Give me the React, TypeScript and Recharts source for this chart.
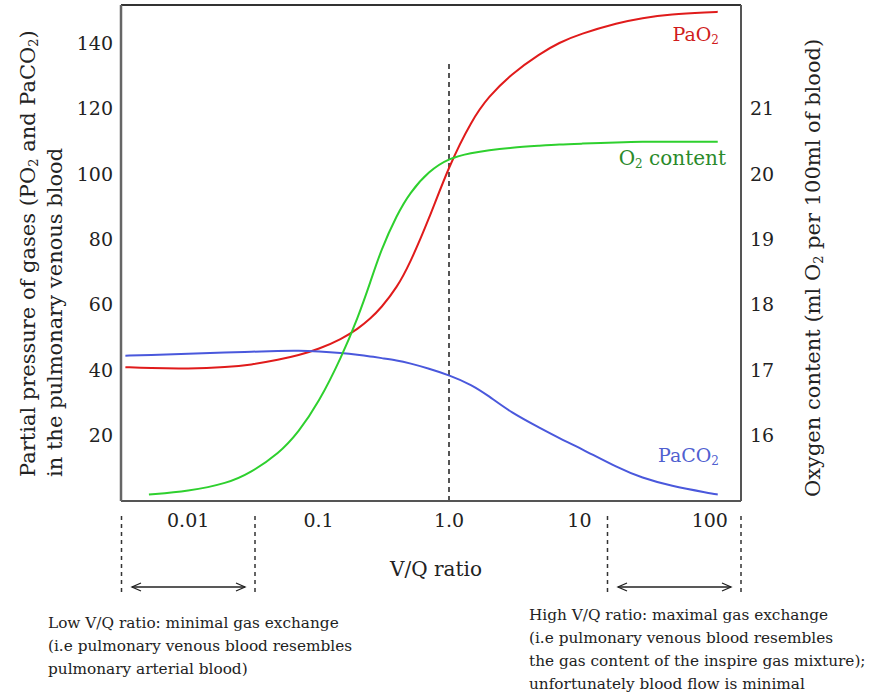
import React from 'react';
import { ComposedChart, Line, XAxis, YAxis, ReferenceLine } from 'recharts';

const FONT = '"DejaVu Serif", "Liberation Serif", serif';

// V/Q ratio sample points (log axis)
const vq = [0.0033, 0.005, 0.01, 0.02, 0.03, 0.05, 0.07, 0.1, 0.15, 0.2, 0.25, 0.3, 0.4, 0.5, 0.7, 1, 1.5, 2, 3, 5, 7, 10, 20, 30, 50, 100, 115];
// PaO2, mmHg (left axis)
const pao2 = [40.9, 40.6, 40.4, 40.9, 41.6, 43.2, 44.5, 46.4, 49.5, 52.6, 55.8, 58.9, 65.3, 72.5, 86, 102.5, 116.5, 123.5, 130.5, 136.8, 140.1, 142.7, 146.2, 147.6, 148.8, 149.4, 149.5];
// PaCO2, mmHg (left axis)
const paco2 = [44.4, 44.6, 45, 45.4, 45.6, 45.9, 46, 45.7, 45.2, 44.7, 44.2, 43.7, 43, 42.1, 40.5, 38.5, 35.5, 32.2, 27, 22.3, 19.2, 16.3, 10, 7.1, 4.6, 2.4, 2.0];
// O2 content, ml O2 / 100 ml blood (right axis)
const o2content = [null, 15.1, 15.15, 15.27, 15.43, 15.73, 16.05, 16.5, 17.2, 17.8, 18.35, 18.83, 19.38, 19.71, 20.04, 20.24, 20.32, 20.36, 20.4, 20.43, 20.45, 20.46, 20.48, 20.49, 20.49, 20.49, 20.49];

const xTicks = [0.01, 0.1, 1, 10, 100];
const xTickLabels = ['0.01', '0.1', '1.0', '10', '100'];
const leftTicks = [20, 40, 60, 80, 100, 120, 140];
const rightTicks = [16, 17, 18, 19, 20, 21];

const rows = vq.map((v, i) => ({ vq: v, pao2: pao2[i], paco2: paco2[i], o2: o2content[i] }));

const LEFT_MAX = 151.6;
const tickStyle = { fill: '#222', fontSize: 19, fontFamily: FONT };

const Arrow = ({ x1, x2, y }: { x1: number; x2: number; y: number }) => (
  <g stroke="#222" strokeWidth={1.3} fill="none">
    <line x1={x1} y1={y} x2={x2} y2={y} />
    <polyline points={`${x1 + 9},${y - 4} ${x1},${y} ${x1 + 9},${y + 4}`} />
    <polyline points={`${x2 - 9},${y - 4} ${x2},${y} ${x2 - 9},${y + 4}`} />
  </g>
);

export default function App() {
  return (
    <div style={{ position: 'absolute', left: 0, top: 0, width: 869, height: 692, background: '#fff', fontFamily: FONT }}>
      <ComposedChart width={869} height={692} data={rows} margin={{ top: 5, right: 68, bottom: 161, left: 61 }}>
        <XAxis
          dataKey="vq"
          type="number"
          scale="log"
          domain={[0.003054, 173.4]}
          allowDataOverflow
          ticks={xTicks}
          tickFormatter={(v: number) => xTickLabels[xTicks.indexOf(v)] ?? String(v)}
          tick={tickStyle}
          tickLine={false}
          tickSize={0}
          tickMargin={13}
          height={30}
          axisLine={{ stroke: '#555', strokeWidth: 2 }}
        />
        <YAxis
          yAxisId="left"
          domain={[0, LEFT_MAX]}
          ticks={leftTicks}
          tick={tickStyle}
          tickLine={false}
          tickSize={0}
          tickMargin={8}
          width={60}
          allowDataOverflow
          axisLine={{ stroke: '#666', strokeWidth: 2.5 }}
        />
        <YAxis
          yAxisId="right"
          orientation="right"
          domain={[15, 15 + LEFT_MAX / 20]}
          ticks={rightTicks}
          tick={{ ...tickStyle, textAnchor: 'start' }}
          tickLine={false}
          tickSize={0}
          tickMargin={9}
          width={60}
          allowDataOverflow
          axisLine={{ stroke: '#555', strokeWidth: 2 }}
        />
        <ReferenceLine yAxisId="left" y={LEFT_MAX} stroke="#333" strokeWidth={2} />
        <ReferenceLine
          yAxisId="left"
          segment={[{ x: 1, y: 0 }, { x: 1, y: 134 }]}
          stroke="#555"
          strokeWidth={2}
          strokeDasharray="5 4"
        />
        <Line yAxisId="left" type="basis" dataKey="pao2" stroke="#e01b1b" strokeWidth={2} dot={false} isAnimationActive={false} />
        <Line yAxisId="left" type="basis" dataKey="paco2" stroke="#4a58dc" strokeWidth={2} dot={false} isAnimationActive={false} />
        <Line yAxisId="right" type="basis" dataKey="o2" stroke="#2ed02e" strokeWidth={2} dot={false} isAnimationActive={false} />
      </ComposedChart>

      <svg width={869} height={692} style={{ position: 'absolute', left: 0, top: 0, pointerEvents: 'none' }} fontFamily={FONT}>
        {/* series labels */}
        <text x={719} y={41} textAnchor="end" fill="#d01c1c" fontSize={19}>
          PaO<tspan fontSize={12} dy={3}>2</tspan>
        </text>
        <text x={726} y={165} textAnchor="end" fill="#2a8a2a" fontSize={20}>
          O<tspan fontSize={12} dy={3}>2</tspan>
          <tspan dy={-3}> content</tspan>
        </text>
        <text x={719} y={462} textAnchor="end" fill="#5060d0" fontSize={19}>
          PaCO<tspan fontSize={12} dy={3}>2</tspan>
        </text>

        {/* axis titles */}
        <text transform="translate(35,477) rotate(-90)" fontSize={21} fill="#222">
          Partial pressure of gases (PO<tspan fontSize={13} dy={3}>2</tspan>
          <tspan dy={-3}> and PaCO</tspan>
          <tspan fontSize={13} dy={3}>2</tspan>
          <tspan dy={-3}>)</tspan>
        </text>
        <text transform="translate(62,477) rotate(-90)" fontSize={21} fill="#222">
          in the pulmonary venous blood
        </text>
        <text transform="translate(820,497) rotate(-90)" fontSize={21} fill="#222">
          Oxygen content (ml O<tspan fontSize={13} dy={3}>2</tspan>
          <tspan dy={-3}> per 100ml of blood)</tspan>
        </text>
        <text x={436} y={576} textAnchor="middle" fontSize={20} fill="#222">V/Q ratio</text>

        {/* low / high V/Q ranges */}
        <g stroke="#333" strokeWidth={1.5} strokeDasharray="4 4">
          <line x1={121.5} y1={516} x2={121.5} y2={592} />
          <line x1={255} y1={516} x2={255} y2={592} />
          <line x1={607.5} y1={516} x2={607.5} y2={592} />
          <line x1={741} y1={516} x2={741} y2={592} />
        </g>
        <Arrow x1={132} x2={245} y={587} />
        <Arrow x1={618} x2={731} y={587} />

        <g fontSize={15.3} fill="#222">
          <text x={48} y={628}>Low V/Q ratio: minimal gas exchange</text>
          <text x={48} y={651}>(i.e pulmonary venous blood resembles</text>
          <text x={48} y={674}>pulmonary arterial blood)</text>
          <text x={529} y={620}>High V/Q ratio: maximal gas exchange</text>
          <text x={529} y={643}>(i.e pulmonary venous blood resembles</text>
          <text x={529} y={666}>the gas content of the inspire gas mixture);</text>
          <text x={529} y={689}>unfortunately blood flow is minimal</text>
        </g>
      </svg>
    </div>
  );
}
